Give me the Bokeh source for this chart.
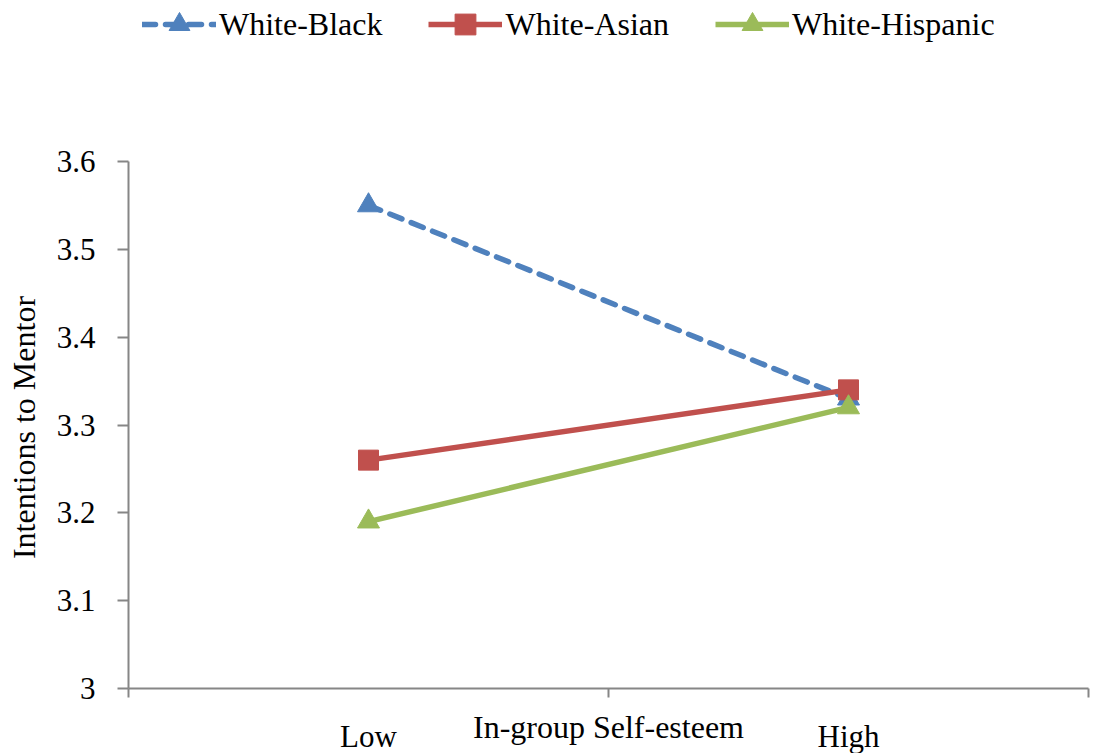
import math
from bokeh.plotting import figure
from bokeh.models import Range1d, FixedTicker, Legend, LegendItem, Label
from bokeh.embed import file_html
from bokeh.resources import INLINE

categories = ["Low", "High"]
x_pos = [0.5, 1.5]
white_black = [3.55, 3.33]
white_asian = [3.26, 3.34]
white_hispanic = [3.19, 3.32]
y_ticks = [3.0, 3.1, 3.2, 3.3, 3.4, 3.5, 3.6]
y_tick_labels = ["3", "3.1", "3.2", "3.3", "3.4", "3.5", "3.6"]

FONT = "Liberation Serif"
FS_TICK = "31px"
FS_TITLE = "32px"
AXIS_COLOR = "#868686"

# The frame covers the whole canvas; axes are fixed at x=0 / y=3.0 with bounds.
Y_MIN, Y_MAX = 3.0, 3.6
X_MIN, X_MAX = 0.0, 2.0
PY = 527 / (Y_MAX - Y_MIN)   # px per y unit
PX = 960 / (X_MAX - X_MIN)   # px per x unit
p = figure(frame_width=1090, frame_height=753, output_backend="svg", toolbar_location=None,
           x_range=Range1d(X_MIN - 128 / PX, X_MAX + 2 / PX),
           y_range=Range1d(Y_MIN - 65 / PY, Y_MAX + 161 / PY),
           min_border_left=0, min_border_right=0, min_border_top=0,
           min_border_bottom=0)
p.outline_line_color = None
p.xgrid.grid_line_color = None
p.ygrid.grid_line_color = None
p.background_fill_color = "white"
p.border_fill_color = "white"

# y axis
p.yaxis.fixed_location = X_MIN
p.yaxis.bounds = (Y_MIN, Y_MAX)
p.yaxis.ticker = FixedTicker(ticks=y_ticks)
p.yaxis.major_label_overrides = {t: l for t, l in zip(y_ticks, y_tick_labels)}
p.yaxis.minor_tick_line_color = None
p.yaxis.major_tick_in = 0
p.yaxis.major_tick_out = 11
p.yaxis.major_label_standoff = 22
p.yaxis.axis_line_color = AXIS_COLOR
p.yaxis.axis_line_width = 2
p.yaxis.major_tick_line_color = AXIS_COLOR
p.yaxis.major_tick_line_width = 2
p.yaxis.major_label_text_font = FONT
p.yaxis.major_label_text_font_size = FS_TICK
p.yaxis.major_label_text_color = "black"

# x axis
p.xaxis.fixed_location = Y_MIN
p.xaxis.bounds = (X_MIN, X_MAX)
p.xaxis.ticker = FixedTicker(ticks=x_pos, minor_ticks=[0, 1, 2])
p.xaxis.major_label_overrides = {x: c for x, c in zip(x_pos, categories)}
p.xaxis.major_tick_line_color = None
p.xaxis.major_tick_in = 0
p.xaxis.major_tick_out = 0
p.xaxis.minor_tick_in = 0
p.xaxis.minor_tick_out = 9
p.xaxis.minor_tick_line_color = AXIS_COLOR
p.xaxis.minor_tick_line_width = 2
p.xaxis.axis_line_color = AXIS_COLOR
p.xaxis.axis_line_width = 2
p.xaxis.major_label_standoff = 21
p.xaxis.major_label_text_font = FONT
p.xaxis.major_label_text_font_size = FS_TICK
p.xaxis.major_label_text_color = "black"

p.add_layout(Label(x=(X_MIN + X_MAX) / 2, y=Y_MIN - 38 / PY, text="In-group Self-esteem",
                   text_font=FONT, text_font_size=FS_TITLE, text_align="center",
                   text_baseline="middle", text_color="black"))
p.add_layout(Label(x=X_MIN - 105 / PX, y=Y_MIN + (688 - 427) / PY,
                   text="Intentions to Mentor", angle=math.pi / 2,
                   text_font=FONT, text_font_size=FS_TITLE, text_align="center",
                   text_baseline="middle", text_color="black"))

BLUE = "#4F81BD"
RED = "#C0504D"
GREEN = "#9BBB59"

l1 = p.line(x_pos, white_black, line_color=BLUE, line_width=5.5, line_dash="13 10",
            line_cap="round")
m1 = p.scatter(x_pos, white_black, marker="triangle", size=22, fill_color=BLUE,
               line_color=BLUE)
l2 = p.line(x_pos, white_asian, line_color=RED, line_width=5.5)
m2 = p.scatter(x_pos, white_asian, marker="square", size=20, fill_color=RED,
               line_color=RED)
l3 = p.line(x_pos, white_hispanic, line_color=GREEN, line_width=5.5)
m3 = p.scatter(x_pos, white_hispanic, marker="triangle", size=22, fill_color=GREEN,
               line_color=GREEN)

legend = Legend(items=[
    LegendItem(label="White-Black", renderers=[l1, m1]),
    LegendItem(label="White-Asian", renderers=[l2, m2]),
    LegendItem(label="White-Hispanic", renderers=[l3, m3]),
], orientation="horizontal", location=(128 + 14, 753 - 50))
legend.label_text_font = FONT
legend.label_text_font_size = FS_TITLE
legend.label_text_color = "black"
legend.glyph_width = 74
legend.glyph_height = 52
legend.label_standoff = 3
legend.spacing = 46
legend.padding = 0
legend.margin = 0
legend.border_line_color = None
legend.background_fill_alpha = 0
p.add_layout(legend, "center")

open("out.html", "w").write(file_html(p, INLINE))
